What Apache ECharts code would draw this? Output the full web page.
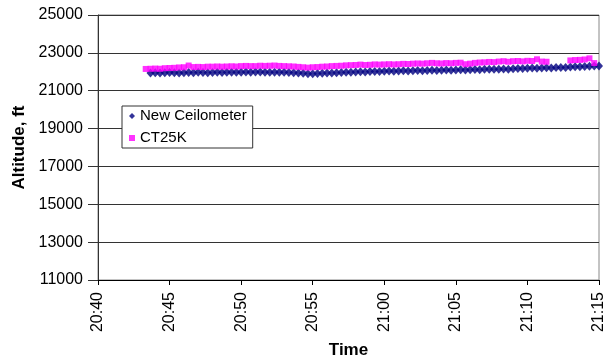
<!DOCTYPE html>
<html>
<head>
<meta charset="utf-8">
<script src="https://cdn.jsdelivr.net/npm/echarts@6/dist/echarts.min.js"></script>
<style>html,body{margin:0;padding:0;background:#fff}#c{width:611px;height:360px}</style>
</head>
<body>
<div id="c"></div>
<script>
var times = [
"20:43:20","20:43:40","20:44:00","20:44:20","20:44:40","20:45:00","20:45:20","20:45:40",
"20:46:00","20:46:20","20:46:40","20:47:00","20:47:20","20:47:40","20:48:00","20:48:20",
"20:48:40","20:49:00","20:49:20","20:49:40","20:50:00","20:50:20","20:50:40","20:51:00",
"20:51:20","20:51:40","20:52:00","20:52:20","20:52:40","20:53:00","20:53:20","20:53:40",
"20:54:00","20:54:20","20:54:40","20:55:00","20:55:20","20:55:40","20:56:00","20:56:20",
"20:56:40","20:57:00","20:57:20","20:57:40","20:58:00","20:58:20","20:58:40","20:59:00",
"20:59:20","20:59:40","21:00:00","21:00:20","21:00:40","21:01:00","21:01:20","21:01:40",
"21:02:00","21:02:20","21:02:40","21:03:00","21:03:20","21:03:40","21:04:00","21:04:20",
"21:04:40","21:05:00","21:05:20","21:05:40","21:06:00","21:06:20","21:06:40","21:07:00",
"21:07:20","21:07:40","21:08:00","21:08:20","21:08:40","21:09:00","21:09:20","21:09:40",
"21:10:00","21:10:20","21:10:40","21:11:00","21:11:20","21:11:40","21:12:00","21:12:20",
"21:12:40","21:13:00","21:13:20","21:13:40","21:14:00","21:14:20","21:14:40","21:15:00"
];
var newCeilometer = [
null,21930,21950,21940,21950,21960,21950,21940,
21950,21960,21950,21970,21960,21950,21960,21970,
21960,21970,21980,21970,21980,21990,21980,21990,
21990,21980,21980,21970,21980,21970,21960,21950,
21930,21920,21900,21900,21910,21920,21930,21940,
21950,21960,21970,21980,21990,22000,21990,22010,
22020,22010,22030,22040,22030,22040,22050,22040,
22060,22070,22060,22070,22080,22070,22080,22090,
22080,22100,22110,22100,22110,22120,22110,22130,
22140,22130,22140,22150,22140,22160,22170,22170,
22190,22200,22190,22200,22210,22200,22220,22230,
22220,22250,22260,22260,22280,22290,22300,22310
];
var ct25k = [
22150,22160,22170,22160,22190,22200,22210,22230,
22240,22330,22250,22260,22250,22270,22270,22280,
22270,22280,22290,22280,22300,22310,22300,22300,
22320,22310,22320,22330,22310,22300,22290,22280,
22260,22240,22220,22240,22250,22270,22280,22300,
22310,22320,22340,22350,22360,22380,22360,22370,
22390,22380,22390,22400,22390,22400,22420,22410,
22430,22440,22430,22450,22470,22450,22440,22460,
22450,22470,22480,22400,22430,22470,22490,22500,
22520,22510,22540,22560,22530,22560,22570,22550,
22580,22570,22660,22540,22530,null,null,null,
null,22600,22620,22630,22650,22710,22460,null
];
var xTickMin = 1240, xTickMax = 1275, xTickStep = 5;
var yTickMin = 11000, yTickMax = 25000, yTickStep = 2000;

function toMin(t){var p=t.split(':');return (+p[0])*60+(+p[1])+(+p[2])/60;}
function pairs(vals){var out=[];for(var i=0;i<times.length;i++){if(vals[i]!=null)out.push([toMin(times[i]),vals[i]]);}return out;}
function fmt(m){var h=Math.floor(m/60),mm=Math.round(m-h*60);return h+':'+(mm<10?'0':'')+mm;}

var FONT = "'Liberation Sans', Arial, sans-serif";
var chart = echarts.init(document.getElementById('c'), null, {renderer:'canvas'});
chart.setOption({
  animation:false,
  backgroundColor:'#fff',
  textStyle:{fontFamily:FONT},
  grid:{left:98,right:12,top:15,bottom:80,containLabel:false,outerBoundsMode:'none',show:true,borderColor:'#888',borderWidth:1,backgroundColor:'transparent'},
  legend:{
    orient:'vertical',left:122,top:106,
    padding:[2,6,2,7],itemGap:6,itemWidth:6,itemHeight:6,
    backgroundColor:'#fff',borderColor:'#333',borderWidth:1,borderRadius:0,
    textStyle:{fontFamily:FONT,fontSize:15,color:'#000',lineHeight:16},
    data:[{name:'New Ceilometer',icon:'diamond'},{name:'CT25K',icon:'rect'}]
  },
  xAxis:{
    type:'value',min:xTickMin,max:xTickMax,interval:xTickStep,
    name:'Time',nameLocation:'middle',nameGap:62,
    nameTextStyle:{fontFamily:FONT,fontSize:17,fontWeight:'bold',color:'#000'},
    axisLine:{show:true,onZero:false,lineStyle:{color:'#000',width:1}},
    axisTick:{show:true,length:5,lineStyle:{color:'#000'}},
    axisLabel:{rotate:90,margin:12,fontFamily:FONT,fontSize:16,color:'#000',formatter:fmt},
    splitLine:{show:false}
  },
  yAxis:{
    type:'value',min:yTickMin,max:yTickMax,interval:yTickStep,
    name:'Altitude, ft',nameLocation:'middle',nameGap:67,
    nameTextStyle:{fontFamily:FONT,fontSize:17,fontWeight:'bold',color:'#000'},
    axisLine:{show:true,lineStyle:{color:'#333',width:1}},
    axisTick:{show:true,length:10,lineStyle:{color:'#333'}},
    axisLabel:{margin:15,fontFamily:FONT,fontSize:16,color:'#000',formatter:function(v){return String(v);}},
    splitLine:{show:true,lineStyle:{color:'#333',width:1}}
  },
  series:[
    {name:'New Ceilometer',type:'scatter',symbol:'diamond',symbolSize:[8,9],
     itemStyle:{color:'#000080'},data:pairs(newCeilometer)},
    {name:'CT25K',type:'scatter',symbol:'rect',symbolSize:6,
     itemStyle:{color:'#ff00ff'},data:pairs(ct25k)}
  ]
});
</script>
</body>
</html>
